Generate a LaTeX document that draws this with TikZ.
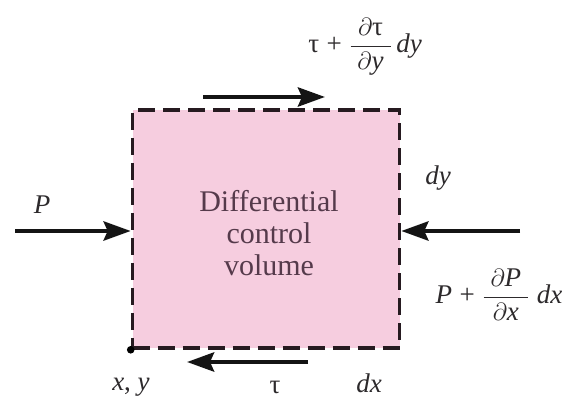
\documentclass[tikz,border=0pt]{standalone}
\usepackage{amsmath}
\usepackage{fontspec}
\setmainfont{Liberation Serif}
\usetikzlibrary{arrows.meta}
\definecolor{cvpink}{RGB}{246,205,223}
\definecolor{cvedge}{RGB}{38,26,32}
\definecolor{lbl}{RGB}{45,42,44}
\definecolor{bodytxt}{RGB}{85,58,75}
\tikzset{
  cvbox/.style={draw=cvedge, fill=cvpink, line width=3.6pt, dash pattern=on 17pt off 8pt, minimum width=267pt, minimum height=238pt, inner sep=0pt},
  force/.style={line width=4.5pt, -{Stealth[length=27pt,width=19pt,inset=4pt]}, draw=black!92},
  lab/.style={font=\fontsize{27}{30}\selectfont, text=lbl, inner sep=0pt},
  body/.style={font=\fontsize{30}{32}\selectfont, text=bodytxt, align=center, inner sep=0pt}
}
\begin{document}
\begin{tikzpicture}[x=1pt,y=1pt]
\useasboundingbox (0,0) rectangle (569,401);
\node[cvbox] (box) at (266,172) {};
\node[body] (txt) at (269,168) {Differential\\control\\volume};
% forces
\coordinate (pl) at (15,170);
\coordinate (pr) at (520,170);
\draw[force] (pl) -- (box.west |- pl);
\draw[force] (pr) -- (box.east |- pr);
\coordinate (ts) at (203,304);
\coordinate (te) at (325,304);
\draw[force] (ts) -- (te);
\coordinate (bs) at (308,39);
\coordinate (be) at (187,39);
\draw[force] (bs) -- (be);
\fill[black] (box.south west) circle (3.8pt);
% labels
\node[lab] (lP) at (42,196) {\textit{P}};
\node[lab] (lt) at (365,354) {τ\;+\;$\displaystyle\frac{\;\partial\text{τ}\;}{\;\partial\textit{y}\;}$\,\textit{dy}};
\node[lab] (ldy) at (438,223) {\textit{dy}};
\node[lab] (lPr) at (499,106) {\textit{P}\;+\;$\displaystyle\frac{\;\partial\textit{P}\;}{\;\partial\textit{x}\;}$\;\textit{dx}};
\node[lab] (lxy) at (131,14) {\textit{x}, \textit{y}};
\node[lab] (ltau) at (275,14) {τ};
\node[lab] (ldx) at (369,18) {\textit{dx}};
\end{tikzpicture}
\end{document}
